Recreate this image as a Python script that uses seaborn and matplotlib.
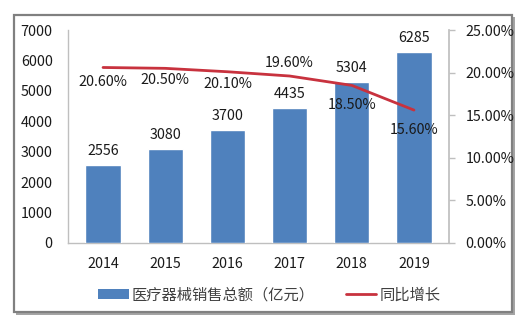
import matplotlib
matplotlib.use("Agg")
import matplotlib.pyplot as plt
import seaborn as sns
import pandas as pd
from matplotlib.patches import Rectangle, Patch
from matplotlib.lines import Line2D
from matplotlib.ticker import FuncFormatter, MultipleLocator

years = ["2014", "2015", "2016", "2017", "2018", "2019"]
sales = [2556, 3080, 3700, 4435, 5304, 6285]
growth = [20.60, 20.50, 20.10, 19.60, 18.50, 15.60]
bar_name = "医疗器械销售总额（亿元）"
line_name = "同比增长"

# label offsets (pixels) for the growth labels: negative = below point
growth_label_dy = [-15, -12, -12, 13, -20, -20]

sns.set_theme(style="white")
plt.rcParams["font.family"] = ["Noto Sans CJK SC", "DejaVu Sans"]

BLUE = "#4F81BD"
RED = "#C8323E"
TXT = "#1a1a1a"
GRID = "#BFBFBF"
FS = 10.3

df = pd.DataFrame({"year": years, "sales": sales, "growth": growth})

fig = plt.figure(figsize=(5.28, 3.27), dpi=100)
fig.patch.set_facecolor("white")

# frame with shadow
W, H = 528, 327
fig.patches.append(Rectangle((16 / W, 1 - 315 / H), 499 / W, 298 / H, transform=fig.transFigure,
                             facecolor="#a5a5a5", edgecolor="none", zorder=-3))
fig.patches.append(Rectangle((14 / W, 1 - 312 / H), 498 / W, 297 / H, transform=fig.transFigure,
                             facecolor="white", edgecolor="#808080", linewidth=1.6, zorder=-2))

ax = fig.add_axes([68 / W, 1 - 243 / H, 381 / W, 213 / H])
ax.set_facecolor("none")
sns.barplot(data=df, x="year", y="sales", color=BLUE, saturation=1, width=0.57, ax=ax, zorder=3)
ax.set_ylim(0, 7000)
ax.yaxis.set_major_locator(MultipleLocator(1000))
ax.set_xlabel("")
ax.set_ylabel("")
for s in ["top", "right"]:
    ax.spines[s].set_visible(False)
for s in ["left", "bottom"]:
    ax.spines[s].set_color(GRID)
    ax.spines[s].set_linewidth(1)
ax.tick_params(axis="both", length=0, labelsize=FS, colors=TXT)
ax.tick_params(axis="y", pad=11)
ax.tick_params(axis="x", pad=10)

for i, v in enumerate(sales):
    ax.annotate(f"{v}", (i, v), xytext=(0, 5), textcoords="offset points",
                ha="center", va="bottom", fontsize=FS, color=TXT)

ax2 = ax.twinx()
sns.lineplot(x=list(range(len(years))), y=growth, color=RED, linewidth=2, ax=ax2, zorder=4)
ax2.set_ylim(0, 25)
ax2.yaxis.set_major_locator(MultipleLocator(5))
ax2.yaxis.set_major_formatter(FuncFormatter(lambda v, p: f"{v:.2f}%"))
for s in ["top", "left", "bottom"]:
    ax2.spines[s].set_visible(False)
ax2.spines["right"].set_color(GRID)
ax2.tick_params(axis="y", length=4, width=1, color=GRID, labelsize=FS, labelcolor=TXT, pad=8, direction="out")
ax2.set_xlim(ax.get_xlim())

for i, v in enumerate(growth):
    dy = growth_label_dy[i]
    ax2.annotate(f"{v:.2f}%", (i, v), xytext=(0, dy * 0.72), textcoords="offset points",
                 ha="center", va="center", fontsize=FS, color=TXT)

handles = [Patch(facecolor=BLUE, edgecolor="none"), Line2D([0], [0], color=RED, lw=2)]
fig.legend(handles, [bar_name, line_name], loc="center", bbox_to_anchor=(0.51, 1 - 295 / H),
           ncol=2, frameon=False, fontsize=11, handlelength=2.0, handleheight=0.6,
           columnspacing=2.0, handletextpad=0.2, labelcolor="#404040")

fig.savefig("out.png", dpi=100, facecolor="white")
